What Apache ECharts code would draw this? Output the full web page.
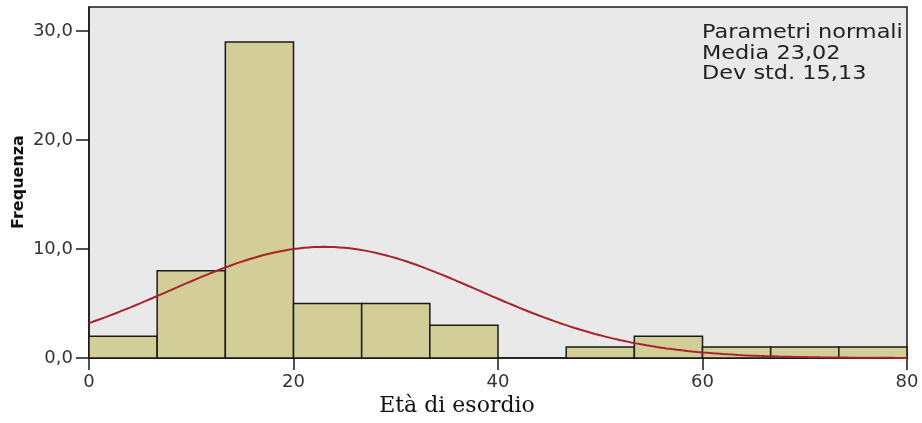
<!DOCTYPE html>
<html>
<head>
<meta charset="utf-8">
<script src="https://cdn.jsdelivr.net/npm/echarts@6/dist/echarts.min.js"></script>
<style>
  html, body { margin: 0; padding: 0; background: #ffffff; }
  #chart { width: 922px; height: 423px; }
</style>
</head>
<body>
<div id="chart"></div>
<script>
// Histogram of age at onset with fitted normal curve
const binEdges = [0, 6.667, 13.333, 20, 26.667, 33.333, 40, 46.667, 53.333, 60, 66.667, 73.333, 80];
const binCounts = [2, 8, 29, 5, 5, 3, 0, 1, 2, 1, 1, 1];
const xTicks = [0, 20, 40, 60, 80];
const yTicks = [0, 10, 20, 30];
const fitMean = 23.02;
const fitStd = 15.13;
const legendLines = ['Parametri normali', 'Media 23,02', 'Dev std. 15,13'];
const xTitle = 'Età di esordio';
const yTitle = 'Frequenza';

// bar records: [start, end, count]
const barData = binCounts.map((c, i) => [binEdges[i], binEdges[i + 1], c]);

// normal density scaled to counts (N * bin width * pdf), from the stated mean / std
const totalN = binCounts.reduce((a, b) => a + b, 0);
const binWidth = binEdges[1] - binEdges[0];
const curveData = [];
for (let x = 0; x <= 80; x += 0.5) {
  const z = (x - fitMean) / fitStd;
  const pdf = Math.exp(-0.5 * z * z) / (fitStd * Math.sqrt(2 * Math.PI));
  curveData.push([x, totalN * binWidth * pdf]);
}

const chart = echarts.init(document.getElementById('chart'), null, { renderer: 'canvas' });
const axisFont = 'DejaVu Sans';

chart.setOption({
  animation: false,
  grid: {
    left: 89, right: 15, top: 7, bottom: 65,
    show: true, backgroundColor: '#e9e9e9', borderColor: '#1a1a1a', borderWidth: 1.5
  },
  xAxis: {
    type: 'value', min: 0, max: 80, interval: 20,
    axisLine: { show: true, onZero: false, lineStyle: { color: '#1a1a1a', width: 1.5 } },
    axisTick: { show: true, length: 12, lineStyle: { color: '#1a1a1a', width: 1.5 } },
    axisLabel: {
      color: '#333', fontFamily: axisFont, fontSize: 18, margin: 15,
      formatter: v => xTicks.includes(v) ? String(v) : ''
    },
    splitLine: { show: false }
  },
  yAxis: {
    type: 'value', min: 0, max: 32.2, interval: 10,
    axisLine: { show: true, lineStyle: { color: '#1a1a1a', width: 1.5 } },
    axisTick: { show: true, length: 13, lineStyle: { color: '#1a1a1a', width: 1.5 } },
    axisLabel: {
      color: '#333', fontFamily: axisFont, fontSize: 18, margin: 16,
      showMaxLabel: false,
      formatter: v => yTicks.includes(v) ? v.toFixed(1).replace('.', ',') : ''
    },
    splitLine: { show: false }
  },
  graphic: [
    {
      type: 'text', x: 702, y: 23, scaleX: 1.12,
      style: {
        text: legendLines.join('\n'), fill: '#222',
        font: '20px "DejaVu Sans"', lineHeight: 20.5,
        textAlign: 'left', textVerticalAlign: 'top'
      }
    },
    {
      type: 'text', x: 457, y: 406,
      style: {
        text: xTitle, fill: '#111', font: '22px "DejaVu Serif"',
        textAlign: 'center', textVerticalAlign: 'middle'
      }
    },
    {
      type: 'text', x: 19, y: 182, rotation: Math.PI / 2,
      style: {
        text: yTitle, fill: '#111', font: 'bold 16px "DejaVu Sans"',
        textAlign: 'center', textVerticalAlign: 'middle'
      }
    }
  ],
  series: [
    {
      type: 'custom',
      data: barData,
      encode: { x: [0, 1], y: 2 },
      renderItem: (params, api) => {
        const c = api.value(2);
        if (!c) return null;
        const p0 = api.coord([api.value(0), 0]);
        const p1 = api.coord([api.value(1), c]);
        return {
          type: 'rect',
          shape: { x: p0[0], y: p1[1], width: p1[0] - p0[0], height: p0[1] - p1[1] },
          style: { fill: '#d3ce97', stroke: '#1a1a1a', lineWidth: 1.5 }
        };
      },
      z: 2
    },
    {
      type: 'line',
      data: curveData,
      showSymbol: false,
      smooth: false,
      lineStyle: { color: '#a8222c', width: 2 },
      z: 3
    }
  ]
});
</script>
</body>
</html>
